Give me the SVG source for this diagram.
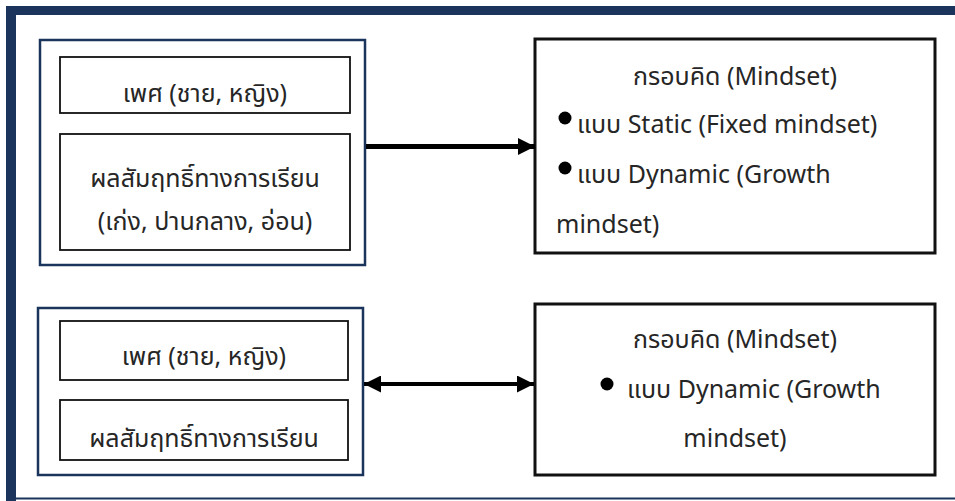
<svg xmlns="http://www.w3.org/2000/svg" width="955" height="501" viewBox="0 0 955 501">
<defs>
<style>
text{font-family:"Noto Sans Thai","Noto Sans Thai UI","Leelawadee UI",Tahoma,"Noto Sans","DejaVu Sans",sans-serif;font-size:25px;fill:#262626}
.c{text-anchor:middle}
.grp{fill:none;stroke:#1b345c;stroke-width:2.5}
.box{fill:#fff;stroke:#111;stroke-width:1.8}
.big{fill:#fff;stroke:#111;stroke-width:3}
.conn{stroke:#000;fill:none}
</style>
<marker id="ah" viewBox="0 0 10 10" refX="10" refY="5" markerUnits="userSpaceOnUse" markerWidth="18" markerHeight="17" orient="auto-start-reverse">
<path d="M0,0 L10,5 L0,10 Z" fill="#000"/>
</marker>
</defs>
<rect width="955" height="501" fill="#fff"/>
<g id="frame">
<rect x="6" y="6" width="949" height="9" fill="#1b345c"/>
<rect x="6" y="6" width="10" height="495" fill="#1b345c"/>
<rect x="6" y="497.5" width="949" height="2" fill="#1b345c"/>
</g>
<g id="group1">
<rect class="grp" x="40" y="40" width="325" height="225"/>
</g>
<g id="gender1">
<rect class="box" x="60" y="57" width="290" height="56"/>
<text class="c" x="205" y="102">เพศ (ชาย, หญิง)</text>
</g>
<g id="achievement1">
<rect class="box" x="60" y="134" width="290" height="116"/>
<text class="c" x="205" y="187">ผลสัมฤทธิ์ทางการเรียน</text>
<text class="c" x="205" y="230">(เก่ง, ปานกลาง, อ่อน)</text>
</g>
<g id="mindset1">
<rect class="big" x="535" y="39" width="400" height="214"/>
<text class="c" x="735" y="85">กรอบคิด (Mindset)</text>
<circle cx="565" cy="118" r="6.5" fill="#000"/>
<text x="577" y="133">แบบ Static (Fixed mindset)</text>
<circle cx="565" cy="168" r="6.5" fill="#000"/>
<text x="577" y="183">แบบ Dynamic (Growth</text>
<text x="556" y="233">mindset)</text>
</g>
<g id="group2">
<rect class="grp" x="38" y="308" width="325" height="167"/>
</g>
<g id="gender2">
<rect class="box" x="60" y="321" width="288" height="59"/>
<text class="c" x="204" y="365">เพศ (ชาย, หญิง)</text>
</g>
<g id="achievement2">
<rect class="box" x="60" y="400" width="288" height="60"/>
<text class="c" x="204" y="447">ผลสัมฤทธิ์ทางการเรียน</text>
</g>
<g id="mindset2">
<rect class="big" x="535" y="304" width="400" height="171"/>
<text class="c" x="735" y="348">กรอบคิด (Mindset)</text>
<circle cx="607" cy="384" r="6.5" fill="#000"/>
<text x="627" y="398">แบบ Dynamic (Growth</text>
<text class="c" x="735" y="447">mindset)</text>
</g>
<g id="connectors">
<line class="conn" x1="366" y1="146.5" x2="535" y2="146.5" stroke-width="5" marker-end="url(#ah)"/>
<line class="conn" x1="364" y1="384" x2="534" y2="384" stroke-width="4" marker-start="url(#ah)" marker-end="url(#ah)"/>
</g>
</svg>
